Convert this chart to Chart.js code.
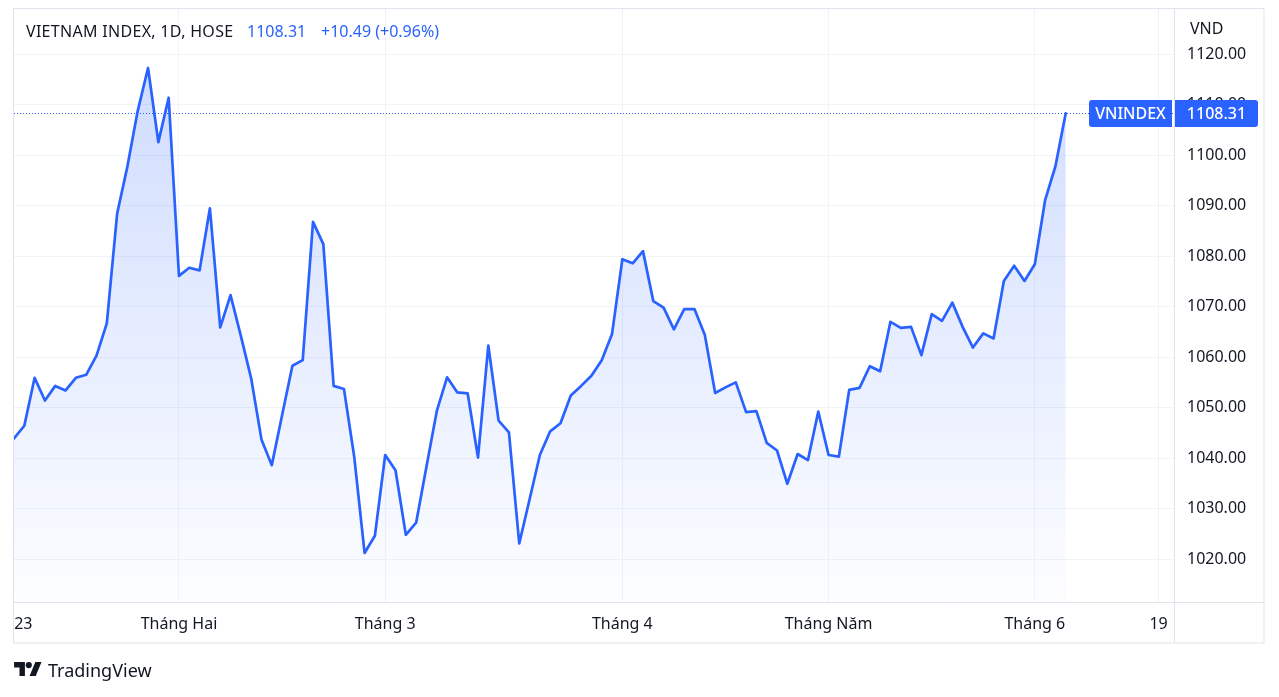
<!DOCTYPE html>
<html>
<head>
<meta charset="utf-8">
<script src="https://cdn.jsdelivr.net/npm/chart.js@4.4.1/dist/chart.umd.min.js"></script>
<style>
  html, body { margin: 0; padding: 0; background: #ffffff; }
  body { width: 1279px; height: 697px; position: relative; overflow: hidden; font-family: "Noto Sans", Roboto, sans-serif; }
  canvas { position: absolute; left: 0; top: 0; }
  .txt { position: absolute; font-size: 16px; line-height: 20px; white-space: nowrap; color: #131722; }
  .blue { color: #2962ff; }
  #brand { position: absolute; left: 14px; top: 658px; height: 24px; display: flex; align-items: center; }
  #brand span { font-size: 18px; color: #131722; margin-left: 6px; }
</style>
</head>
<body>
<canvas id="c" width="1279" height="697"></canvas>
<div class="txt" style="left:26px; top:21px; letter-spacing:0.3px;">VIETNAM INDEX, 1D, HOSE</div>
<div class="txt blue" style="left:247px; top:21px;">1108.31</div>
<div class="txt blue" style="left:321px; top:21px;">+10.49 (+0.96%)</div>
<div class="txt" style="left:1190px; top:18px;">VND</div>
<div id="brand">
  <svg width="28" height="17" viewBox="0 0 36 22"><path d="M14 18H7V7H0V0h14v18z M28 18h-8l7.5-18h8z" fill="#131722"/><circle cx="19" cy="4" r="4" fill="#131722"/></svg>
  <span>TradingView</span>
</div>
<script>
// ---- data ----
const dates = [
  '2023-01-03','2023-01-04','2023-01-05','2023-01-06','2023-01-09','2023-01-10','2023-01-11','2023-01-12','2023-01-13','2023-01-16','2023-01-17','2023-01-18','2023-01-19','2023-01-27','2023-01-30','2023-01-31',
  '2023-02-01','2023-02-02','2023-02-03','2023-02-06','2023-02-07','2023-02-08','2023-02-09','2023-02-10','2023-02-13','2023-02-14','2023-02-15','2023-02-16','2023-02-17','2023-02-20','2023-02-21','2023-02-22','2023-02-23','2023-02-24','2023-02-27','2023-02-28',
  '2023-03-01','2023-03-02','2023-03-03','2023-03-06','2023-03-07','2023-03-08','2023-03-09','2023-03-10','2023-03-13','2023-03-14','2023-03-15','2023-03-16','2023-03-17','2023-03-20','2023-03-21','2023-03-22','2023-03-23','2023-03-24','2023-03-27','2023-03-28','2023-03-29','2023-03-30','2023-03-31',
  '2023-04-03','2023-04-04','2023-04-05','2023-04-06','2023-04-07','2023-04-10','2023-04-11','2023-04-12','2023-04-13','2023-04-14','2023-04-17','2023-04-18','2023-04-19','2023-04-20','2023-04-21','2023-04-24','2023-04-25','2023-04-26','2023-04-27','2023-04-28',
  '2023-05-04','2023-05-05','2023-05-08','2023-05-09','2023-05-10','2023-05-11','2023-05-12','2023-05-15','2023-05-16','2023-05-17','2023-05-18','2023-05-19','2023-05-22','2023-05-23','2023-05-24','2023-05-25','2023-05-26','2023-05-29','2023-05-30','2023-05-31',
  '2023-06-01','2023-06-02','2023-06-05','2023-06-06'
];
const closes = [
  1043.9,1046.4,1055.9,1051.4,1054.3,1053.4,1055.9,1056.5,1060.3,1066.7,1088.4,1097.8,1108.8,1117.3,1102.6,1111.4,
  1076.1,1077.7,1077.2,1089.5,1065.9,1072.3,1064.2,1055.8,1043.7,1038.6,1048.5,1058.3,1059.4,1086.8,1082.4,1054.3,1053.7,1040.2,1021.2,1024.6,
  1040.6,1037.6,1024.8,1027.2,1038.3,1049.3,1056.0,1053.0,1052.8,1040.1,1062.3,1047.4,1045.1,1023.1,1031.8,1040.6,1045.3,1046.9,1052.4,1054.3,1056.3,1059.4,1064.6,
  1079.4,1078.6,1081.0,1071.1,1069.8,1065.5,1069.5,1069.5,1064.4,1052.9,1054.0,1055.0,1049.1,1049.3,1043.0,1041.5,1034.9,1040.8,1039.6,1049.2,
  1040.6,1040.3,1053.5,1053.9,1058.2,1057.2,1067.0,1065.8,1066.0,1060.4,1068.5,1067.2,1070.8,1066.0,1061.9,1064.7,1063.7,1075.1,1078.1,1075.1,
  1078.4,1091.1,1097.82,1108.31
];
const lastPrice = 1108.31;
const seriesName = 'VNINDEX';
const tickLabels = ['23','Tháng Hai','Tháng 3','Tháng 4','Tháng Năm','Tháng 6','19'];
const tickIndex  = [0, 16, 36, 59, 79, 99, 111];   // trading-day index of each time label
const yTicks = [1020,1030,1040,1050,1060,1070,1080,1090,1100,1110,1120];

// ---- chart ----
const FONT = { family: '"Noto Sans", Roboto, sans-serif', size: 16 };
const GRID = '#f0f3fa';
const FRAME = '#e0e3eb';
const BLUE = '#2962ff';

const framePlugin = {
  id: 'frame',
  afterDraw(chart) {
    const c = chart.ctx, a = chart.chartArea, y = chart.scales.y;
    c.save();
    // dotted last price line
    const py = Math.round(y.getPixelForValue(lastPrice)) + 0.5;
    c.strokeStyle = BLUE; c.lineWidth = 1; c.setLineDash([1, 2]);
    c.beginPath(); c.moveTo(a.left, py); c.lineTo(a.right, py); c.stroke();
    c.setLineDash([]);
    // frame
    c.strokeStyle = FRAME; c.lineWidth = 1;
    c.beginPath();
    c.rect(a.left - 0.5, a.top - 0.5, 1264 - a.left + 0.5, 643 - a.top + 0.5);
    c.moveTo(a.right + 0.5, a.top); c.lineTo(a.right + 0.5, 643);
    c.moveTo(a.left, a.bottom + 0.5); c.lineTo(1264, a.bottom + 0.5);
    c.stroke();
    // price tags
    const h = 27, top = py - 13.5;
    c.fillStyle = BLUE;
    c.beginPath(); c.roundRect(1089, top, 83, h, [3, 0, 0, 3]); c.fill();
    c.beginPath(); c.roundRect(1175, top, 83, h, [0, 3, 3, 0]); c.fill();
    c.fillStyle = '#ffffff';
    c.font = '500 16px "Noto Sans", Roboto, sans-serif';
    c.textAlign = 'center'; c.textBaseline = 'middle';
    c.fillText(seriesName, 1130.5, py + 0.5);
    c.fillText(lastPrice.toFixed(2), 1216.5, py + 0.5);
    c.restore();
  }
};

new Chart(document.getElementById('c'), {
  type: 'line',
  data: {
    datasets: [{
      label: seriesName,
      data: closes.map((v, i) => ({ x: i, y: v })),
      borderColor: BLUE,
      borderWidth: 2.7,
      borderJoinStyle: 'round',
      borderCapStyle: 'round',
      pointRadius: 0,
      tension: 0,
      fill: 'start',
      backgroundColor: (ctx) => {
        const ch = ctx.chart, a = ch.chartArea;
        if (!a) return 'rgba(41,98,255,0.1)';
        const top = ch.scales.y.getPixelForValue(Math.max(...closes));
        const g = ch.ctx.createLinearGradient(0, top, 0, a.bottom);
        g.addColorStop(0, 'rgba(41,98,255,0.22)');
        g.addColorStop(1, 'rgba(41,98,255,0.01)');
        return g;
      }
    }]
  },
  options: {
    responsive: false,
    animation: false,
    devicePixelRatio: 1,
    layout: { padding: { left: 14, top: 9, right: 15, bottom: 54 } },
    plugins: { legend: { display: false }, tooltip: { enabled: false } },
    scales: {
      x: {
        type: 'linear',
        position: 'bottom',
        min: 0,
        max: 112.5,
        afterFit: (s) => { s.height = 41; s.paddingLeft = 0; s.paddingRight = 0; },
        afterBuildTicks: (s) => {
          s.ticks = tickIndex.map((v, i) => ({ value: i === 0 ? v + 0.9 : v }));
        },
        grid: {
          color: (ctx) => (ctx.index === 0 ? 'rgba(0,0,0,0)' : GRID),
          drawTicks: false,
          lineWidth: 1
        },
        border: { display: false },
        ticks: {
          autoSkip: false,
          maxRotation: 0,
          padding: 13,
          color: '#131722',
          font: FONT,
          callback: (v, i) => tickLabels[i]
        }
      },
      y: {
        type: 'linear',
        position: 'right',
        min: 1011.48,
        max: 1128.98,
        afterFit: (s) => { s.width = 90; s.paddingTop = 0; s.paddingBottom = 0; },
        afterBuildTicks: (s) => { s.ticks = yTicks.map(v => ({ value: v })); },
        grid: { color: GRID, drawTicks: false, lineWidth: 1 },
        border: { display: false },
        ticks: {
          padding: 13,
          color: '#131722',
          font: FONT,
          callback: (v) => Number(v).toFixed(2)
        }
      }
    }
  },
  plugins: [framePlugin]
});
</script>
</body>
</html>
